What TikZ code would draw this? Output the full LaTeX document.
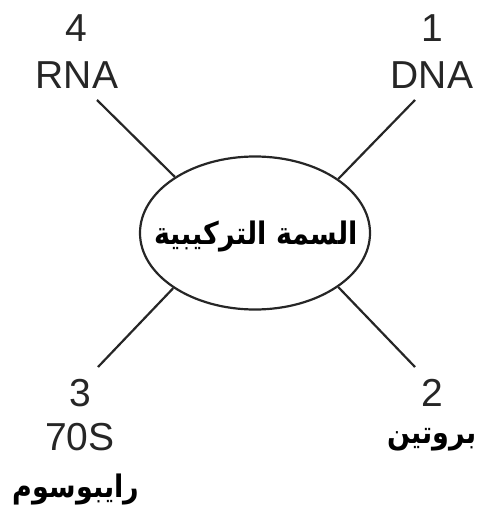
\documentclass[tikz,border=0pt]{standalone}
\usepackage{fontspec}
\setmainfont{Liberation Sans}
\newfontfamily\arabicfont[Script=Arabic]{DejaVu Sans}
\TeXXeTstate=1
\usetikzlibrary{shapes.geometric}
\begin{document}
\begin{tikzpicture}[x=1pt,y=-1pt,
  lbl/.style={inner sep=0pt,font=\fontsize{39}{42}\selectfont,text=black!85},
  arlbl/.style={inner sep=0pt,font=\arabicfont\bfseries\fontsize{27}{30}\selectfont,yscale=1.15,transform shape},
  link/.style={line width=2.2pt,draw=black!85}]
\useasboundingbox (0,0) rectangle (478,516);
\node[ellipse,draw=black!85,line width=2.2pt,minimum width=230pt,minimum height=153pt,inner sep=0pt] (e) at (255,233) {};
\node[arlbl] (et) at (256,236) {\beginR السمة التركيبية\endR};
\node[lbl] (n4) at (76,28) {4};
\node[lbl] (rna) at (77,75) {RNA};
\node[lbl] (n1) at (432,28) {1};
\node[lbl] (dna) at (432,75) {DNA};
\node[lbl] (n3) at (80,393) {3};
\node[lbl] (s70) at (80,437) {70S};
\node[arlbl] (rib) at (76,489) {\beginR رايبوسوم\endR};
\node[arlbl] (prot) at (432,440) {\beginR بروتين\endR};
\node[lbl] (n2) at (432,393) {2};
\coordinate (c4) at (97,100);
\coordinate (c1) at (415,100);
\coordinate (c3) at (98,367);
\coordinate (c2) at (415,367);
\draw[link] (c4) -- (e.145.5);
\draw[link] (c1) -- (e.33);
\draw[link] (c3) -- (e.214.5);
\draw[link] (c2) -- (e.-33.5);
\end{tikzpicture}
\end{document}
